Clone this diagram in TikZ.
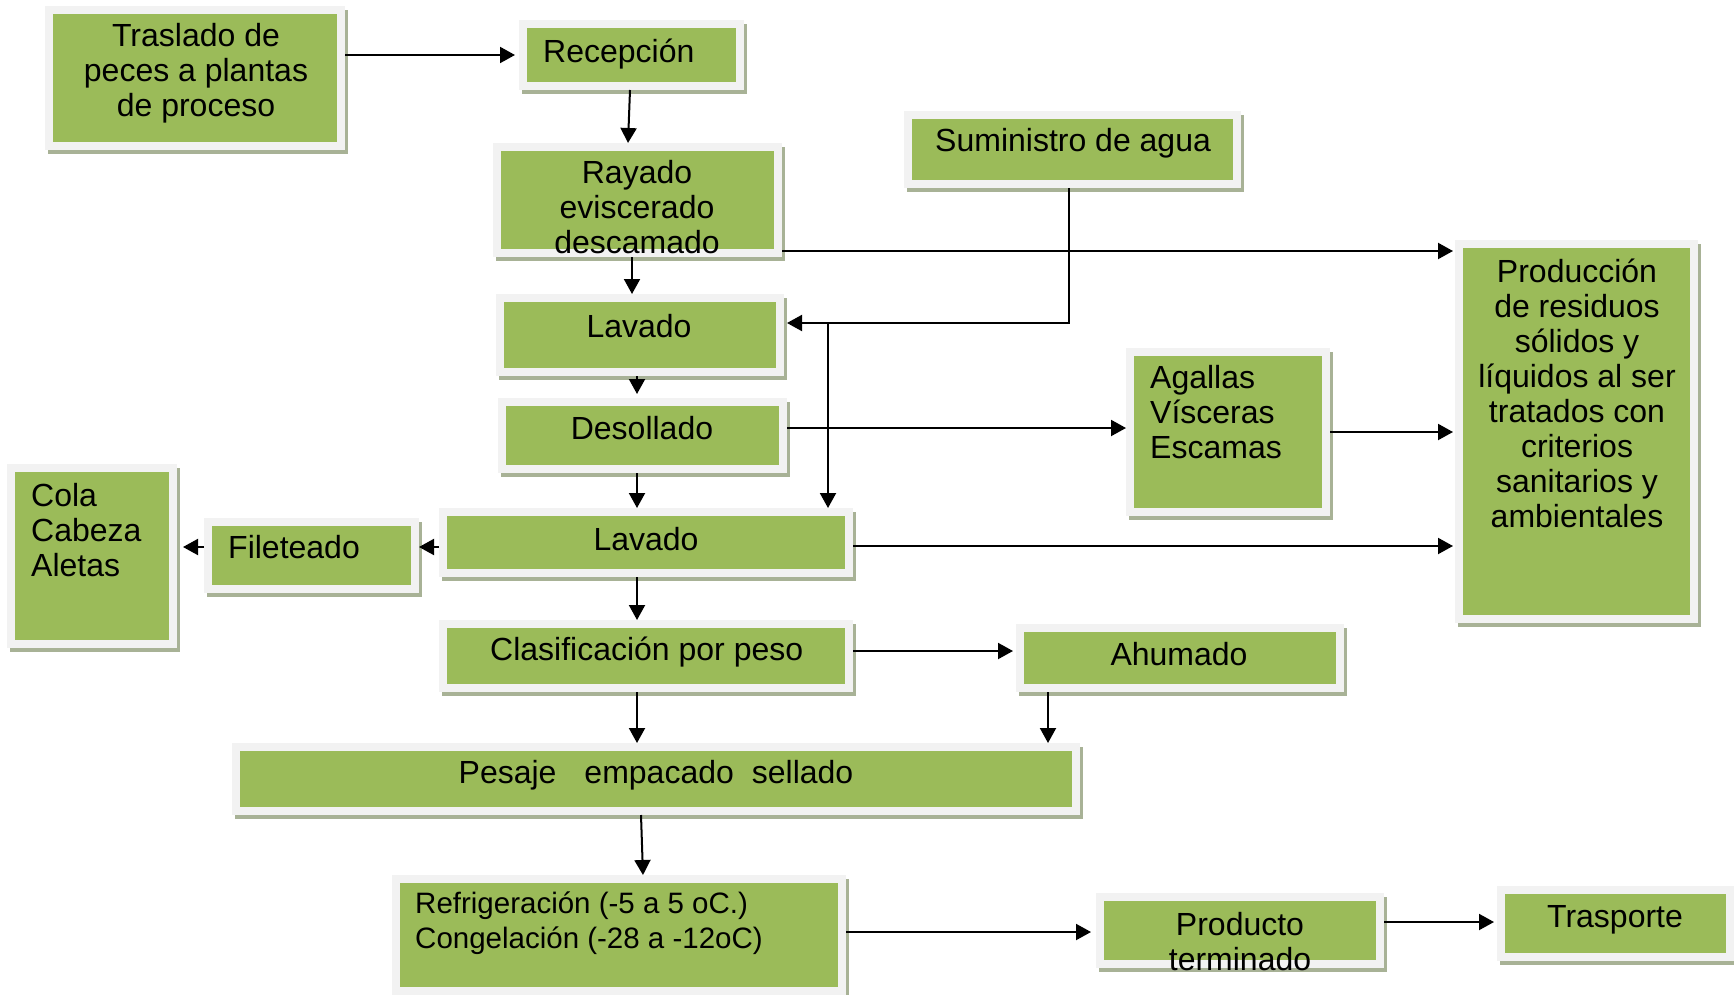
\documentclass[tikz,border=0pt]{standalone}
\usepackage{fontspec}
\setmainfont{Liberation Sans}
\usetikzlibrary{arrows.meta}
\definecolor{boxgreen}{RGB}{155,187,89}
\definecolor{boxborder}{RGB}{242,242,242}
\definecolor{boxshadow}{RGB}{168,178,150}
\tikzset{
  box/.style={draw=boxborder, fill=boxgreen, line width=8pt, inner sep=0pt,
    preaction={draw=boxshadow, fill=boxshadow, line width=8pt,
      transform canvas={shift={(3pt,-4pt)}}}},
  txt/.style={inner sep=0pt, font=\fontsize{32}{35}\selectfont},
  conn/.style={line width=2pt, -{Triangle[length=15pt,width=16pt]}},
  plain/.style={line width=2pt}
}
\begin{document}
\begin{tikzpicture}[x=1pt,y=-1pt]
\useasboundingbox (0,0) rectangle (1734,995);
\fill[white] (0,0) rectangle (1734,995);
% boxes
\node[box, minimum width=292pt, minimum height=136pt] (trasl) at (195,78) {};
\node[box, minimum width=217pt, minimum height=62pt] (recep) at (631.5,55) {};
\node[box, minimum width=281pt, minimum height=106pt] (rayado) at (637.5,200) {};
\node[box, minimum width=329pt, minimum height=69pt] (sumin) at (1072.5,149.5) {};
\node[box, minimum width=280pt, minimum height=74pt] (lav1) at (640,335) {};
\node[box, minimum width=281pt, minimum height=67pt] (desol) at (642.5,435.5) {};
\node[box, minimum width=196pt, minimum height=160pt] (agall) at (1228,432) {};
\node[box, minimum width=235pt, minimum height=375pt] (prod) at (1576.5,431.5) {};
\node[box, minimum width=162pt, minimum height=176pt] (cola) at (92,556) {};
\node[box, minimum width=207pt, minimum height=67pt] (filet) at (311.5,555.5) {};
\node[box, minimum width=406pt, minimum height=61pt] (lav2) at (646,542.5) {};
\node[box, minimum width=406pt, minimum height=64pt] (clasif) at (646,656) {};
\node[box, minimum width=320pt, minimum height=60pt] (ahum) at (1180,658) {};
\node[box, minimum width=840pt, minimum height=64pt] (pesaje) at (656,779) {};
\node[box, minimum width=446pt, minimum height=112pt] (refrig) at (619,935) {};
\node[box, minimum width=280pt, minimum height=67pt] (produc) at (1240,930.5) {};
\node[box, minimum width=229pt, minimum height=67pt] (trasp) at (1615.5,923.5) {};
% helper coordinates
\coordinate (r1) at ([yshift=-51pt]rayado.east);
\coordinate (w1) at ([xshift=-3.5pt]sumin.south);
\coordinate (w2) at ([xshift=3pt,yshift=12pt]lav1.east);
\coordinate (wj) at ([xshift=44pt,yshift=12pt]lav1.east);
\coordinate (d1) at ([yshift=7.5pt]desol.east);
\coordinate (l2) at ([yshift=-3.5pt]lav2.east);
\coordinate (l2w) at ([yshift=-4.5pt]lav2.west);
\coordinate (c1) at ([yshift=5pt]clasif.east);
\coordinate (a1) at ([xshift=-132pt]ahum.south);
\coordinate (rf) at ([yshift=3pt]refrig.east);
\coordinate (pt) at ([yshift=8.5pt]produc.east);
% connectors
\draw[conn] (trasl.east |- recep.west) -- ([xshift=-4pt]recep.west);
\draw[conn] ([xshift=-1.5pt]recep.south) -- ([xshift=-9.5pt]rayado.north);
\draw[conn] ([xshift=-5.5pt]rayado.south) -- ([xshift=-8pt]lav1.north);
\draw[conn, shorten >=2pt] (r1) -- (prod.west |- r1);
\draw[conn] (w1) |- (w2);
\draw[conn] (wj) -- (wj |- lav2.north);
\draw[conn] ([xshift=-3pt]lav1.south) -- ([xshift=-5.5pt,yshift=4pt]desol.north);
\draw[conn] (d1) -- (agall.west |- d1);
\draw[conn, shorten >=2pt] (agall.east) -- (prod.west |- agall.east);
\draw[conn] ([xshift=-5.5pt]desol.south) -- ([xshift=-9pt]lav2.north);
\draw[conn, shorten >=2pt] (l2) -- (prod.west |- l2);
\draw[conn] (l2w) -- (filet.east |- l2w);
\draw[conn, shorten >=6pt] (filet.west |- l2w) -- (cola.east |- l2w);
\draw[conn] ([xshift=-9pt]lav2.south) -- ([xshift=-9pt]clasif.north);
\draw[conn, shorten >=3pt] (c1) -- (ahum.west |- c1);
\draw[conn] ([xshift=-9pt]clasif.south) -- ([xshift=-19pt]pesaje.north);
\draw[conn] (a1) -- (a1 |- pesaje.north);
\draw[conn] ([xshift=-15pt]pesaje.south) -- ([xshift=24pt]refrig.north);
\draw[conn, shorten >=5pt] (rf) -- (produc.west |- rf);
\draw[conn, shorten >=3pt] (pt) -- (trasp.west |- pt);
% texts (multi-line nodes: base = baseline of last line)
\node[txt, anchor=base, align=center] (t-trasl) at (196,117) {Traslado de\\peces a plantas\\de proceso};
\node[txt, anchor=base west] (t-recep) at (543,63) {Recepción};
\node[txt, anchor=base, align=center] (t-rayado) at (637,253) {Rayado\\eviscerado\\descamado};
\node[txt, anchor=base west] (t-sumin) at (935,152) {Suministro de agua};
\node[txt, anchor=base] (t-lav1) at (639,337) {Lavado};
\node[txt, anchor=base] (t-desol) at (642,439) {Desollado};
\node[txt, anchor=base west, align=left] (t-agall) at (1150,458) {Agallas\\Vísceras\\Escamas};
\node[txt, anchor=base, align=center] (t-prod) at (1577,527) {Producción\\de residuos\\sólidos y\\líquidos al ser\\tratados con\\criterios\\sanitarios y\\ambientales};
\node[txt, anchor=base west, align=left] (t-cola) at (31,576) {Cola\\Cabeza\\Aletas};
\node[txt, anchor=base west] (t-filet) at (228,558) {Fileteado};
\node[txt, anchor=base] (t-lav2) at (646,550) {Lavado};
\node[txt, anchor=base west] (t-clasif) at (490,660) {Clasificación por peso};
\node[txt, anchor=base] (t-ahum) at (1179,665) {Ahumado};
\node[txt, anchor=base] (t-pesaje) at (656,783) {Pesaje\hspace{28pt}empacado\hspace{18pt}sellado};
\node[txt, anchor=base west, align=left, font=\fontsize{29.5}{35}\selectfont] (t-refrig) at (415,948) {Refrigeración (-5 a 5 oC.)\\Congelación (-28 a -12oC)};
\node[txt, anchor=base, align=center] (t-produc) at (1240,970) {Producto\\terminado};
\node[txt, anchor=base] (t-trasp) at (1615,927) {Trasporte};
\end{tikzpicture}
\end{document}
